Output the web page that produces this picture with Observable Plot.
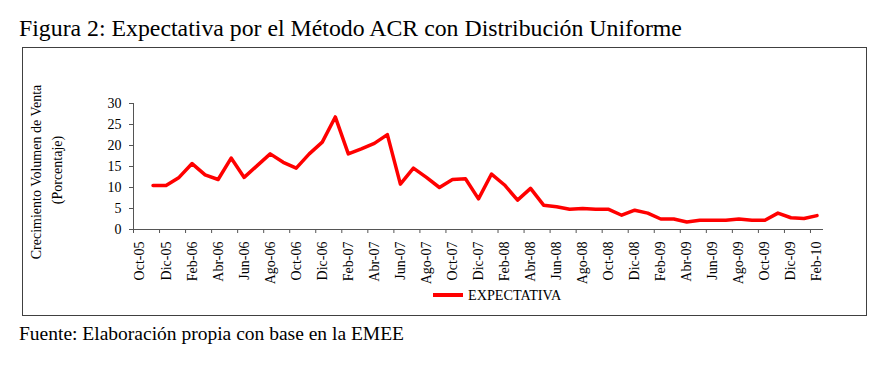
<!DOCTYPE html>
<html>
<head>
<meta charset="utf-8">
<script src="https://cdn.jsdelivr.net/npm/d3@7"></script>
<script src="https://cdn.jsdelivr.net/npm/@observablehq/plot@0.6"></script>
<style>
  html, body { margin: 0; padding: 0; background: #fff; }
  body { width: 886px; height: 368px; position: relative; overflow: hidden; font-family: "Liberation Serif", "Times New Roman", serif; color: #000; }
  .abs { position: absolute; white-space: nowrap; line-height: 1; }
  #title { left: 19px; top: 17px; font-size: 23.8px; }
  #caption { left: 19px; top: 324px; font-size: 19.5px; }
  #box { position: absolute; left: 22px; top: 47px; width: 843px; height: 267px; border: 1px solid #404040; }
  #chart { position: absolute; left: 23px; top: 48px; }
  #chart text { font-size: 14px !important; font-family: "Liberation Serif", "Times New Roman", serif !important; fill: #000; }
  .ytitle { position: absolute; font-size: 14px; white-space: nowrap; line-height: 1; transform: translate(-50%, -50%) rotate(-90deg); }
  #legend { position: absolute; left: 433px; top: 288px; display: flex; align-items: center; font-size: 14.2px; line-height: 1; }
  #legend .sw { width: 30px; height: 3.5px; background: #f00; margin-right: 5px; }
</style>
</head>
<body>
<div id="title" class="abs">Figura 2: Expectativa por el Método ACR con Distribución Uniforme</div>
<div id="box"></div>
<div id="chart"></div>
<div class="ytitle" style="left:37px; top:172px;">Crecimiento Volumen de Venta</div>
<div class="ytitle" style="left:58px; top:170px;">(Porcentaje)</div>
<div id="legend"><div class="sw"></div><span>EXPECTATIVA</span></div>
<div id="caption" class="abs">Fuente: Elaboración propia con base en la EMEE</div>
<script>
// Month categories (Oct-05 .. Feb-10)
const months = ["Oct-05","Nov-05","Dic-05","Ene-06","Feb-06","Mar-06","Abr-06","May-06","Jun-06","Jul-06","Ago-06","Sep-06",
  "Oct-06","Nov-06","Dic-06","Ene-07","Feb-07","Mar-07","Abr-07","May-07","Jun-07","Jul-07","Ago-07","Sep-07",
  "Oct-07","Nov-07","Dic-07","Ene-08","Feb-08","Mar-08","Abr-08","May-08","Jun-08","Jul-08","Ago-08","Sep-08",
  "Oct-08","Nov-08","Dic-08","Ene-09","Feb-09","Mar-09","Abr-09","May-09","Jun-09","Jul-09","Ago-09","Sep-09",
  "Oct-09","Nov-09","Dic-09","Ene-10","Feb-10"];
// EXPECTATIVA series (Oct-05 has no value)
const expectativa = [null, 10.5, 10.5, 12.4, 15.7, 13.0, 11.9, 17.0, 12.4, 15.2, 18.0, 16.0,
  14.6, 18.0, 20.8, 26.8, 18.0, 19.2, 20.5, 22.6, 10.8, 14.6, 12.4, 10.0,
  11.9, 12.1, 7.3, 13.2, 10.6, 7.0, 9.8, 5.8, 5.4, 4.8, 5.0, 4.8,
  4.8, 3.4, 4.6, 3.9, 2.5, 2.5, 1.8, 2.2, 2.2, 2.2, 2.5, 2.2,
  2.2, 3.9, 2.8, 2.6, 3.3];
const yTicks = [0, 5, 10, 15, 20, 25, 30];

const data = months.map((m, i) => ({i, month: m, v: expectativa[i]}));
const labelIdx = months.map((m, i) => i).filter(i => i % 2 === 0);
const tickPos = labelIdx;                       // boundaries every two months
const labelPos = labelIdx.map(i => i + 0.5);    // category centres

const chart = Plot.plot({
  width: 843,
  height: 236,
  marginLeft: 110,
  marginRight: 43,
  marginTop: 55,
  marginBottom: 55,
  style: {fontFamily: "'Liberation Serif', 'Times New Roman', serif", fontSize: "14px", color: "#000", background: "transparent", overflow: "visible"},
  x: {domain: [0, months.length], axis: null},
  y: {domain: [0, 30], axis: null},
  marks: [
    Plot.axisY({ticks: yTicks, tickSize: 4, tickPadding: 8, stroke: "#555", label: null}),
    Plot.axisX({ticks: tickPos, tickSize: 4, tickFormat: () => "", stroke: "#555", label: null}),
    Plot.axisX({ticks: labelPos, tickSize: 0, tickPadding: 12, tickRotate: -90, tickFormat: d => months[d - 0.5], label: null}),
    Plot.ruleX([0], {stroke: "#555"}),
    Plot.ruleY([0], {stroke: "#555"}),
    Plot.line(data, {x: d => d.i + 0.5, y: "v", stroke: "#f00", strokeWidth: 3.5, strokeLinejoin: "round"})
  ]
});
document.getElementById("chart").appendChild(chart);
</script>
</body>
</html>
